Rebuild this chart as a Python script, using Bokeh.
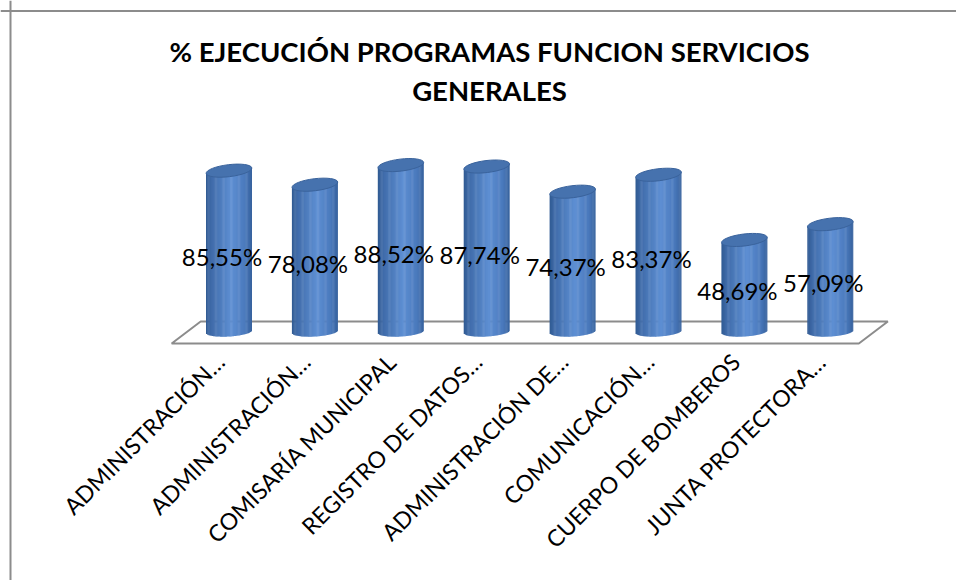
import numpy as np
from bokeh.plotting import figure
from bokeh.models import Range1d, Span
from bokeh.core.properties import value
from bokeh.embed import file_html
from bokeh.resources import INLINE

# ---------------- data ----------------
categories = [
    "ADMINISTRACIÓN…",
    "ADMINISTRACIÓN…",
    "COMISARÍA MUNICIPAL",
    "REGISTRO DE DATOS…",
    "ADMINISTRACIÓN DE…",
    "COMUNICACIÓN…",
    "CUERPO DE BOMBEROS",
    "JUNTA PROTECTORA…",
]
values = [85.55, 78.08, 88.52, 87.74, 74.37, 83.37, 48.69, 57.09]
title_lines = ["% EJECUCIÓN PROGRAMAS FUNCION SERVICIOS", "GENERALES"]

# ---------------- layout ----------------
W, H = 956, 580
X0 = 228.5     # px of first category centre
DX = 85.9      # px per category
Y0 = 331.0     # px of value 0
SY = 1.88      # px per percent

def cx(px):
    return (px - X0) / DX

def cy(py):
    return (Y0 - py) / SY

n = len(values)
idx = np.arange(n, dtype=float)
vals = np.array(values, dtype=float)

p = figure(width=W, height=H, output_backend="svg", toolbar_location=None,
           x_range=Range1d(cx(0), cx(W)), y_range=Range1d(cy(H), cy(0)),
           x_axis_location=None, y_axis_location=None, min_border=0,
           background_fill_color="white", border_fill_color="white")
p.outline_line_color = None
p.grid.visible = False

# chart-area border (left & top)
p.add_layout(Span(location=10, dimension="height", location_units="canvas",
                  line_color="#8c8c8c", line_width=2))
p.add_layout(Span(location=10.5, dimension="width", location_units="canvas",
                  line_color="#8c8c8c", line_width=2))

# ---------------- floor ----------------
back_y, front_y = cy(321), cy(343)
shift = -29 / DX
bl, br = -0.33, (n - 1) + 0.67
p.patch([bl, br, br + shift, bl + shift], [back_y, back_y, front_y, front_y],
        fill_color="white", line_color="#8c8c8c", line_width=2)

# ---------------- cylinders ----------------
BW = 46 / DX          # bar width (data units)
HT = 12 / SY          # top ellipse height
HB = 5 / SY           # bottom half-ellipse depth
tilt = 0.12           # rad, screen rotation of ellipses
K = 40

stops = [(0.00, (48, 90, 146)), (0.12, (64, 108, 170)), (0.55, (94, 143, 211)),
         (0.85, (74, 121, 188)), (1.00, (54, 97, 156))]

def grad(t):
    for (t0, c0), (t1, c1) in zip(stops[:-1], stops[1:]):
        if t0 <= t <= t1:
            f = (t - t0) / (t1 - t0)
            c = [int(round(a + (b - a) * f)) for a, b in zip(c0, c1)]
            return "#%02x%02x%02x" % tuple(c)
    return "#%02x%02x%02x" % stops[-1][1]

L, R, T, B, C = [], [], [], [], []
for i, v in zip(idx, vals):
    for k in range(K):
        left = i - BW / 2 + k * BW / K
        right = left + BW / K
        d = (left + right) / 2 - i
        u = min(1.0, abs(d) / (BW / 2))
        rise = np.tan(tilt) * d * DX / SY
        L.append(left)
        R.append(right + (BW / K) * 0.4 if k < K - 1 else right)
        T.append(v + rise)
        B.append(-HB * np.sqrt(1 - u * u) + rise * 0.5)
        C.append(grad((k + 0.5) / K))
p.quad(left=L, right=R, top=T, bottom=B, fill_color=C, line_color=None)

p.ellipse(x=idx, y=vals, width=BW, height=HT, angle=tilt,
          fill_color="#4672ae", line_color="#3a639c", line_width=1)

# ---------------- value labels ----------------
labels = [("%.2f" % v).replace(".", ",") + "%" for v in values]
p.text(x=idx, y=vals / 2, text=labels, x_offset=-7, y_offset=5,
       text_align="center", text_baseline="middle",
       text_font=value("Lato"), text_font_size="24px", text_color="black")

# ---------------- category labels ----------------
p.text(x=idx - 9 / DX, y=np.full(n, cy(357)), text=categories,
       angle=np.pi / 4, text_align="right", text_baseline="alphabetic",
       text_font=value("Lato"), text_font_size="23px", text_color="black")

# ---------------- title ----------------
p.text(x=[cx(489)] * 2, y=[cy(51), cy(90)], text=title_lines,
       text_align="center", text_baseline="middle",
       text_font=value("Lato"), text_font_style="bold",
       text_font_size="27.5px", text_color="black")

open("out.html", "w").write(file_html(p, INLINE))
